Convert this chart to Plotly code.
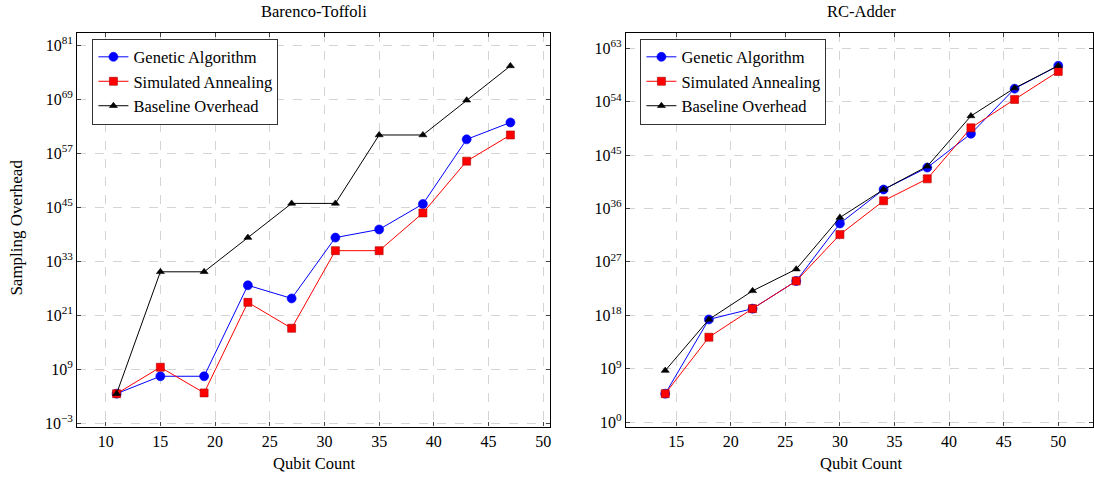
import plotly.graph_objects as go

# ---- data ----
qubits_bt = [11, 15, 19, 23, 27, 31, 35, 39, 43, 47]
ga_bt = [4e3, 3e7, 3e7, 5e27, 6e24, 2e38, 1.3e40, 6e45, 1.4e60, 8e63]
sa_bt = [4e3, 3e9, 6e3, 8e23, 1.4e18, 2.5e35, 2.5e35, 6e43, 2e55, 1.3e61]
base_bt = [4e3, 5e30, 5e30, 2e38, 8e45, 8e45, 1.3e61, 1.3e61, 7e68, 3e76]

qubits_rc = [14, 18, 22, 26, 30, 34, 38, 42, 46, 50]
ga_rc = [6e4, 2e17, 1.3e19, 6e23, 3e33, 1.6e39, 8e42, 4e48, 1.6e56, 1.2e60]
sa_rc = [6e4, 2e14, 1.3e19, 6e23, 4e31, 2e37, 1e41, 4e49, 2.5e54, 1.3e59]
base_rc = [4.7e8, 2e17, 1.3e22, 6e25, 3e34, 1.6e39, 1.3e43, 4e51, 2e56, 1.2e60]

series_names = ["Genetic Algorithm", "Simulated Annealing", "Baseline Overhead"]
xticks = [10, 15, 20, 25, 30, 35, 40, 45, 50]
yticks_bt = [1e-3, 1e9, 1e21, 1e33, 1e45, 1e57, 1e69, 1e81]
yticklabels_bt = ["10<sup>−3</sup>", "10<sup>9</sup>", "10<sup>21</sup>", "10<sup>33</sup>",
                  "10<sup>45</sup>", "10<sup>57</sup>", "10<sup>69</sup>", "10<sup>81</sup>"]
xticks_rc = [15, 20, 25, 30, 35, 40, 45, 50]
yticks_rc = [1e0, 1e9, 1e18, 1e27, 1e36, 1e45, 1e54, 1e63]
yticklabels_rc = ["10<sup>0</sup>", "10<sup>9</sup>", "10<sup>18</sup>", "10<sup>27</sup>",
                  "10<sup>36</sup>", "10<sup>45</sup>", "10<sup>54</sup>", "10<sup>63</sup>"]

FONT = "Liberation Serif, Times New Roman, serif"
styles = [
    dict(color="#0000ff", symbol="circle", size=9),
    dict(color="#ff0000", symbol="square", size=8),
    dict(color="#000000", symbol="triangle-up", size=7),
]

fig = go.Figure()

for xs, ys_list, xa, ya, lg in [
    (qubits_bt, [ga_bt, sa_bt, base_bt], "x", "y", "legend"),
    (qubits_rc, [ga_rc, sa_rc, base_rc], "x2", "y2", "legend2"),
]:
    for name, ys, st in zip(series_names, ys_list, styles):
        fig.add_trace(go.Scatter(
            x=xs, y=ys, name=name, mode="lines+markers",
            line=dict(color=st["color"], width=1),
            marker=dict(color=st["color"], symbol=st["symbol"], size=st["size"],
                        line=dict(width=0.6, color="#aa0000" if st["color"] == "#ff0000" else st["color"])),
            xaxis=xa, yaxis=ya, legend=lg,
        ))

axis_common = dict(
    showline=True, linecolor="#000000", linewidth=1.2, mirror="allticks",
    ticks="inside", ticklen=4, tickcolor="#444444", tickwidth=1,
    showgrid=True, gridcolor="#d4d4d4", griddash="dash", gridwidth=1,
    zeroline=False, tickfont=dict(family=FONT, size=16, color="#000000"),
)

ydom = [1 - 431 / 482, 1 - 33.3 / 482]
legend_common = dict(xanchor="left", yanchor="top", bgcolor="white",
                     bordercolor="#333333", borderwidth=1,
                     font=dict(family=FONT, size=16.5, color="#000000"),
                     itemwidth=30, tracegroupgap=0, entrywidth=158)

fig.update_layout(
    width=1094, height=482,
    margin=dict(l=0, r=0, t=0, b=0),
    paper_bgcolor="white", plot_bgcolor="white",
    font=dict(family=FONT, size=15, color="#000000"),
    xaxis=dict(domain=[77.3 / 1094, 550.3 / 1094], range=[7.4, 50.6],
               tickvals=xticks, anchor="y", **axis_common),
    yaxis=dict(domain=ydom, type="log", range=[-3.7, 83.8],
               tickvals=yticks_bt, ticktext=yticklabels_bt, anchor="x", **axis_common),
    xaxis2=dict(domain=[626.5 / 1094, 1.0], range=[10.4, 53.18],
                tickvals=xticks_rc, anchor="y2", **axis_common),
    yaxis2=dict(domain=ydom, type="log", range=[-0.76, 65.6],
                tickvals=yticks_rc, ticktext=yticklabels_rc, anchor="x2", **axis_common),
    legend=dict(x=92.5 / 1094, y=1 - 39 / 482, **legend_common),
    legend2=dict(x=641 / 1094, y=1 - 39 / 482, **legend_common),
    annotations=[
        dict(text="Barenco-Toffoli", x=313.8 / 1094, y=1 - 12 / 482, xref="paper", yref="paper",
             xanchor="center", yanchor="middle", showarrow=False, font=dict(family=FONT, size=16.5)),
        dict(text="RC-Adder", x=862 / 1094, y=1 - 12 / 482, xref="paper", yref="paper",
             xanchor="center", yanchor="middle", showarrow=False, font=dict(family=FONT, size=16.5)),
        dict(text="Qubit Count", x=313.8 / 1094, y=1 - 468 / 482, xref="paper", yref="paper",
             xanchor="center", yanchor="middle", showarrow=False, font=dict(family=FONT, size=16.5)),
        dict(text="Qubit Count", x=862 / 1094, y=1 - 468 / 482, xref="paper", yref="paper",
             xanchor="center", yanchor="middle", showarrow=False, font=dict(family=FONT, size=16.5)),
        dict(text="Sampling Overhead", x=17 / 1094, y=1 - 230 / 482, xref="paper", yref="paper",
             xanchor="center", yanchor="middle", showarrow=False, textangle=-90,
             font=dict(family=FONT, size=17)),
    ],
)

fig.write_html("out.html", config={"displayModeBar": False},
               post_script="document.body.style.margin='0';document.body.style.overflow='hidden';")
